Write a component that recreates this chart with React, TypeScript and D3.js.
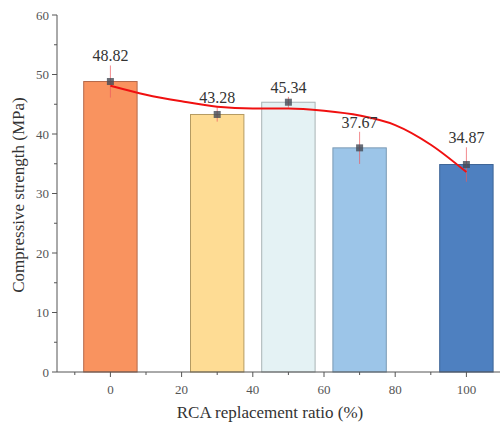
import React from 'react';
import * as d3 from 'd3';

// bars: RCA replacement ratio (%) vs compressive strength (MPa)
const ratios = [0, 30, 50, 70, 100];
const strengths = [48.82, 43.28, 45.34, 37.67, 34.87];
const errors = [2.7, 1.2, 0.9, 2.7, 2.9];
const barColors = ['#f9935f', '#fedc94', '#e4f2f4', '#9cc5e8', '#4e80c0'];
const barStrokes = ['#b5694a', '#b59b62', '#a9b3b5', '#7b9ab5', '#3e6496'];

// fitted trend
const fitX = [0, 10, 20, 30, 40, 50, 60, 70, 80, 90, 100];
const fitY = [48.1, 46.6, 45.5, 44.6, 44.3, 44.3, 43.9, 43.1, 41.5, 38.2, 33.6];

const yTicks = [0, 10, 20, 30, 40, 50, 60];
const yMinor = [5, 15, 25, 35, 45, 55];
const xTicks = [0, 20, 40, 60, 80, 100];
const xMinor = [-10, 10, 30, 50, 70, 90];

const W = 500;
const H = 433;

const x = d3.scaleLinear().domain([-15, 110]).range([57, 502]);
const y = d3.scaleLinear().domain([0, 60]).range([372, 15]);
const barW = x(15) - x(0);

const line = d3.line<number>()
  .x((d, i) => x(fitX[i]))
  .y((d) => y(d))
  .curve(d3.curveMonotoneX);

const axisColor = '#555';
const txt = (size: number) => ({ fontFamily: 'Liberation Serif', fontSize: size });

const App = () => (
  <svg width={W} height={H} style={{ position: 'absolute', left: 0, top: 0, background: '#fff' }}>
    {strengths.map((v, i) => (
      <rect key={`b${i}`} x={x(ratios[i]) - barW / 2} y={y(v)} width={barW} height={y(0) - y(v)}
        fill={barColors[i]} stroke={barStrokes[i]} strokeWidth={1} />
    ))}
    {strengths.map((v, i) => (
      <line key={`e${i}`} x1={x(ratios[i])} x2={x(ratios[i])} y1={y(v + errors[i])} y2={y(v - errors[i])}
        stroke="#ee5a5e" strokeWidth={1} opacity={0.7} />
    ))}
    <path d={line(fitY) || ''} fill="none" stroke="#f01010" strokeWidth={2} />
    {strengths.map((v, i) => (
      <rect key={`m${i}`} x={x(ratios[i]) - 3.5} y={y(v) - 3.5} width={7} height={7} fill="#444a55" opacity={0.8} />
    ))}
    {strengths.map((v, i) => (
      <text key={`t${i}`} x={x(ratios[i])} y={y(v + errors[i]) - 4} textAnchor="middle" style={txt(16)} fill="#333">
        {v.toFixed(2)}
      </text>
    ))}

    {/* y axis */}
    <line x1={x(-15)} x2={x(-15)} y1={y(0)} y2={y(60)} stroke={axisColor} />
    {yTicks.map((t) => (
      <g key={`yt${t}`}>
        <line x1={x(-15) - 5} x2={x(-15)} y1={y(t)} y2={y(t)} stroke={axisColor} />
        <text x={x(-15) - 8} y={y(t)} dy="0.35em" textAnchor="end" style={txt(13)} fill={axisColor}>{t}</text>
      </g>
    ))}
    {yMinor.map((t) => (
      <line key={`ym${t}`} x1={x(-15) - 3} x2={x(-15)} y1={y(t)} y2={y(t)} stroke={axisColor} />
    ))}

    {/* x axis */}
    <line x1={x(-15)} x2={x(110)} y1={y(0)} y2={y(0)} stroke={axisColor} />
    {xTicks.map((t) => (
      <g key={`xt${t}`}>
        <line x1={x(t)} x2={x(t)} y1={y(0)} y2={y(0) + 5} stroke={axisColor} />
        <text x={x(t)} y={y(0) + 22} textAnchor="middle" style={txt(13)} fill={axisColor}>{t}</text>
      </g>
    ))}
    {xMinor.map((t) => (
      <line key={`xm${t}`} x1={x(t)} x2={x(t)} y1={y(0)} y2={y(0) + 3} stroke={axisColor} />
    ))}

    <text x={270} y={418} textAnchor="middle" style={txt(17)} fill="#333">RCA replacement ratio (%)</text>
    <text transform="translate(24,195) rotate(-90)" textAnchor="middle" style={txt(17)} fill="#333">
      Compressive strength (MPa)
    </text>
  </svg>
);

export default App;
